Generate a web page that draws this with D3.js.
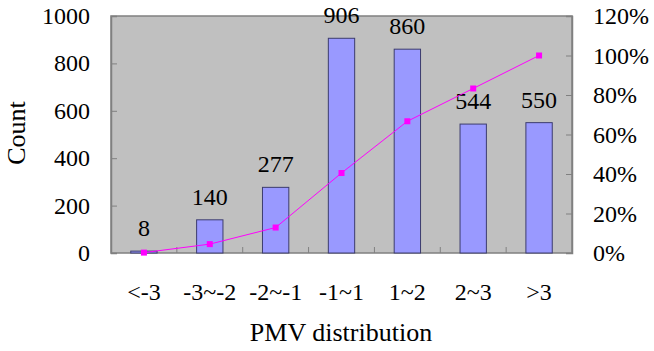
<!DOCTYPE html>
<html>
<head>
<meta charset="utf-8">
<title>PMV distribution</title>
<style>
  body { margin: 0; background: #fff; }
</style>
</head>
<body>
<script src="https://cdn.jsdelivr.net/npm/d3@7"></script>
<script>
// data
var categories = ["<-3", "-3~-2", "-2~-1", "-1~1", "1~2", "2~3", ">3"];
var counts = [8, 140, 277, 906, 860, 544, 550];
var cumPercent = [0.2, 4.5, 12.9, 40.5, 66.7, 83.3, 100];
var leftTicks = [0, 200, 400, 600, 800, 1000];
var rightTicks = [0, 20, 40, 60, 80, 100, 120];

var width = 654, height = 351;
var plot = { left: 111, right: 572, top: 16, bottom: 253 };
var serif = "'Liberation Serif', 'Times New Roman', serif";

var svg = d3.select("body").append("svg")
    .attr("width", width)
    .attr("height", height);

function label(sel, size) {
    return sel.style("font-family", serif)
        .style("font-size", (size || 24) + "px")
        .attr("fill", "#000");
}

var x = d3.scaleBand()
    .domain(categories)
    .range([plot.left, plot.right])
    .paddingInner(0.6)
    .paddingOuter(0.3);

var yL = d3.scaleLinear().domain([0, 1000]).range([plot.bottom, plot.top]);
var yR = d3.scaleLinear().domain([0, 120]).range([plot.bottom, plot.top]);

// plot background
svg.append("rect")
    .attr("x", plot.left).attr("y", plot.top)
    .attr("width", plot.right - plot.left)
    .attr("height", plot.bottom - plot.top)
    .attr("fill", "#c0c0c0")
    .attr("stroke", "#808080")
    .attr("stroke-width", 1.5);

// bars
svg.selectAll("rect.bar")
    .data(counts)
    .enter()
    .append("rect")
    .attr("class", "bar")
    .attr("x", function (d, i) { return x(categories[i]); })
    .attr("y", function (d) { return yL(d); })
    .attr("width", x.bandwidth())
    .attr("height", function (d) { return plot.bottom - yL(d); })
    .attr("fill", "#9999ff")
    .attr("stroke", "#3c3c6e")
    .attr("stroke-width", 1);

// left axis (ticks inward)
var axisL = svg.append("g")
    .attr("transform", "translate(" + plot.left + ",0)")
    .call(d3.axisRight(yL).tickValues(leftTicks).tickSize(6).tickFormat(""));
axisL.select(".domain").attr("stroke", "#808080").attr("stroke-width", 1.5);
axisL.selectAll(".tick line").attr("stroke", "#808080");

svg.selectAll("text.lt")
    .data(leftTicks)
    .enter()
    .append("text")
    .attr("class", "lt")
    .attr("x", 90)
    .attr("y", function (d) { return yL(d) + 8; })
    .attr("text-anchor", "end")
    .call(label)
    .text(function (d) { return d; });

// right axis (ticks inward)
var axisR = svg.append("g")
    .attr("transform", "translate(" + plot.right + ",0)")
    .call(d3.axisLeft(yR).tickValues(rightTicks).tickSize(6).tickFormat(""));
axisR.select(".domain").attr("stroke", "#808080").attr("stroke-width", 1.5);
axisR.selectAll(".tick line").attr("stroke", "#808080");

svg.selectAll("text.rt")
    .data(rightTicks)
    .enter()
    .append("text")
    .attr("class", "rt")
    .attr("x", 593)
    .attr("y", function (d) { return yR(d) + 8; })
    .attr("text-anchor", "start")
    .call(label)
    .text(function (d) { return d + "%"; });

// category boundary ticks on the bottom axis
var bounds = d3.range(1, categories.length).map(function (i) {
    return plot.left + i * (plot.right - plot.left) / categories.length;
});
svg.selectAll("line.ct")
    .data(bounds)
    .enter()
    .append("line")
    .attr("class", "ct")
    .attr("x1", function (d) { return d; })
    .attr("x2", function (d) { return d; })
    .attr("y1", plot.bottom)
    .attr("y2", plot.bottom - 6)
    .attr("stroke", "#808080");

// category labels
svg.selectAll("text.cat")
    .data(categories)
    .enter()
    .append("text")
    .attr("class", "cat")
    .attr("x", function (d) { return x(d) + x.bandwidth() / 2; })
    .attr("y", 300)
    .attr("text-anchor", "middle")
    .call(label)
    .text(function (d) { return d; });

// value labels
svg.selectAll("text.val")
    .data(counts)
    .enter()
    .append("text")
    .attr("class", "val")
    .attr("x", function (d, i) { return x(categories[i]) + x.bandwidth() / 2; })
    .attr("y", function (d) { return yL(d) - 15; })
    .attr("text-anchor", "middle")
    .call(label)
    .text(function (d) { return d; });

// cumulative line
var line = d3.line()
    .x(function (d, i) { return x(categories[i]) + x.bandwidth() / 2; })
    .y(function (d) { return yR(d); });

svg.append("path")
    .datum(cumPercent)
    .attr("d", line)
    .attr("fill", "none")
    .attr("stroke", "#ff00ff")
    .attr("stroke-width", 1);

svg.selectAll("rect.mk")
    .data(cumPercent)
    .enter()
    .append("rect")
    .attr("class", "mk")
    .attr("x", function (d, i) { return x(categories[i]) + x.bandwidth() / 2 - 3; })
    .attr("y", function (d) { return yR(d) - 3; })
    .attr("width", 6)
    .attr("height", 6)
    .attr("fill", "#ff00ff");

// axis titles
svg.append("text")
    .attr("x", 341)
    .attr("y", 341)
    .attr("text-anchor", "middle")
    .call(label, 26)
    .text("PMV distribution");

svg.append("text")
    .attr("transform", "translate(25,133) rotate(-90)")
    .attr("text-anchor", "middle")
    .call(label, 26)
    .text("Count");
</script>
</body>
</html>
